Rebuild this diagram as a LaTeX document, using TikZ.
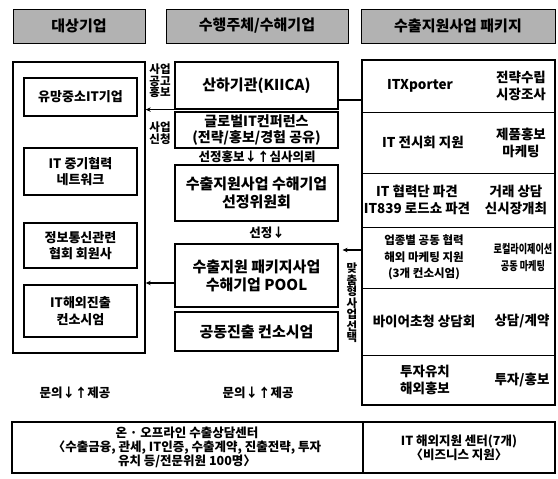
\documentclass[tikz,border=0pt]{standalone}
\usepackage{fontspec}
\usepackage{graphicx}
\setmainfont{Noto Sans CJK KR}
\usetikzlibrary{arrows.meta}
\newcommand{\fs}[2]{\fontsize{#1}{#2}\selectfont}
\begin{document}
\begin{tikzpicture}[x=1pt,y=-1pt,
  box/.style={draw, line width=1.2pt, align=center, inner sep=0pt},
  hdr/.style={draw, line width=1pt, fill=black!30, inner sep=0pt, font=\bfseries\fs{15}{16}},
  ltxt/.style={font=\bfseries\fs{13}{16.5}},
  mtxt/.style={font=\bfseries\fs{15}{18}},
  rtxt/.style={align=center, inner sep=0pt, font=\bfseries\fs{13.5}{17}},
  lbl/.style={align=center, inner sep=0pt, font=\bfseries\fs{12.5}{14}},
  small/.style={align=center, inner sep=0pt, font=\bfseries\fs{11.5}{11.5}},
  arr/.style={line width=1.2pt, -{Stealth[length=5pt,width=4.5pt]}}
]
\useasboundingbox (0,0) rectangle (558,479);

% headers
\node[hdr, minimum width=132pt, minimum height=34pt] (h1) at (79,26) {대상기업};
\node[hdr, minimum width=182pt, minimum height=34pt] (h2) at (257,26) {수행주체/수해기업};
\node[hdr, minimum width=194pt, minimum height=34pt] (h3) at (458,26) {수출지원사업 패키지};

% left column
\node[box, line width=1.4pt, minimum width=132pt, minimum height=291pt] (L) at (79,207.5) {};
\node[box, ltxt, minimum width=113pt, minimum height=38pt] (L1) at (80.5,97) {유망중소IT기업};
\node[box, ltxt, minimum width=113pt, minimum height=47pt] (L2) at (80.5,171.5) {IT 중기협력\\네트워크};
\node[box, ltxt, minimum width=113pt, minimum height=45pt] (L3) at (80.5,245.5) {정보통신관련\\협회 회원사};
\node[box, ltxt, minimum width=113pt, minimum height=52pt] (L4) at (80.5,311) {IT해외진출\\컨소시엄};

% middle column
\node[box, mtxt, minimum width=163pt, minimum height=47pt] (M1) at (256.5,85.5) {산하기관(KIICA)};
\node[box, font=\bfseries\fs{14}{15.5}, minimum width=163pt, minimum height=36pt] (M2) at (256.5,130) {글로벌IT컨퍼런스\\(전략/홍보/경험 공유)};
\node[lbl] (t1) at (257,157) {선정홍보↓↑심사의뢰};
\node[box, mtxt, minimum width=163pt, minimum height=56pt] (M3) at (256.5,193) {수출지원사업 수해기업\\선정위원회};
\node[lbl] (t2) at (267,233) {선정↓};
\node[box, mtxt, minimum width=163pt, minimum height=63pt] (M4) at (256.5,275.5) {수출지원 패키지사업\\수해기업 POOL};
\node[box, mtxt, minimum width=163pt, minimum height=39pt] (M5) at (256.5,331.5) {공동진출 컨소시엄};

% side labels
\node[small] (s1) at (160,81) {사업\\공고\\홍보};
\node[small] (s2) at (160,133) {사업\\신청};
\node[small] (s3) at (352,303) {맞\\춤\\형\\사\\업\\선\\택};

% right column
\node[box, line width=1.4pt, minimum width=193pt, minimum height=345pt] (R) at (458.5,232.5) {};
\foreach \yy in {112,173,227,288,355} \draw[line width=0.9pt] (362,\yy) -- (555,\yy);
\node[rtxt] (r1a) at (420,86) {ITXporter};
\node[rtxt] (r1b) at (521,86) {전략수립\\시장조사};
\node[rtxt] (r2a) at (423,142.5) {IT 전시회 지원};
\node[rtxt] (r2b) at (521,142.5) {제품홍보\\마케팅};
\node[rtxt] (r3a) at (417,200) {IT 협력단 파견\\IT839 로드쇼 파견};
\node[rtxt] (r3b) at (516,200) {거래 상담\\신시장개최};
\node[rtxt, font=\bfseries\fs{11.5}{16.5}] (r4a) at (424,257.5) {업종별 공동 협력\\해외 마케팅 지원\\(3개 컨소시엄)};
\node[rtxt, font=\bfseries\fs{12}{17}] (r4b) at (523,257.5) {\scalebox{0.76}[1]{로컬라이제이션}\\\scalebox{0.76}[1]{공동 마케팅}};
\node[rtxt] (r5a) at (424,321.5) {바이어초청 상담회};
\node[rtxt] (r5b) at (522,321.5) {상담/계약};
\node[rtxt] (r6a) at (425,380) {투자유치\\해외홍보};
\node[rtxt] (r6b) at (522,380) {투자/홍보};

% inquiry labels
\node[lbl] (q1) at (75,393) {문의↓↑제공};
\node[lbl] (q2) at (258,393) {문의↓↑제공};

% bottom box
\node[box, minimum width=543pt, minimum height=51pt] (B) at (283.5,447.5) {};
\draw[line width=1.2pt] (363,422) -- (363,473);
\node[lbl] (b1) at (187,447.5) {온 · 오프라인 수출상담센터\\〈수출금융, 관세, IT인증, 수출계약, 진출전략, 투자\\유치 등/전문위원 100명〉};
\node[lbl] (b2) at (459,447.5) {IT 해외지원 센터(7개)\\〈비즈니스 지원〉};

% connectors
\draw[arr] (M1.south west) -- (M1.south west -| L.east);
\draw[arr] ([yshift=-7.5pt]M4.west) -- ([yshift=-7.5pt]M4.west -| L.east);
\draw[line width=1.1pt] ([yshift=-14.5pt]M1.east) -- ([yshift=-14.5pt]M1.east -| R.west);
\draw[arr] ([yshift=25.5pt]M4.east -| R.west) -- ([yshift=25.5pt,xshift=4pt]M4.east);
\end{tikzpicture}
\end{document}
